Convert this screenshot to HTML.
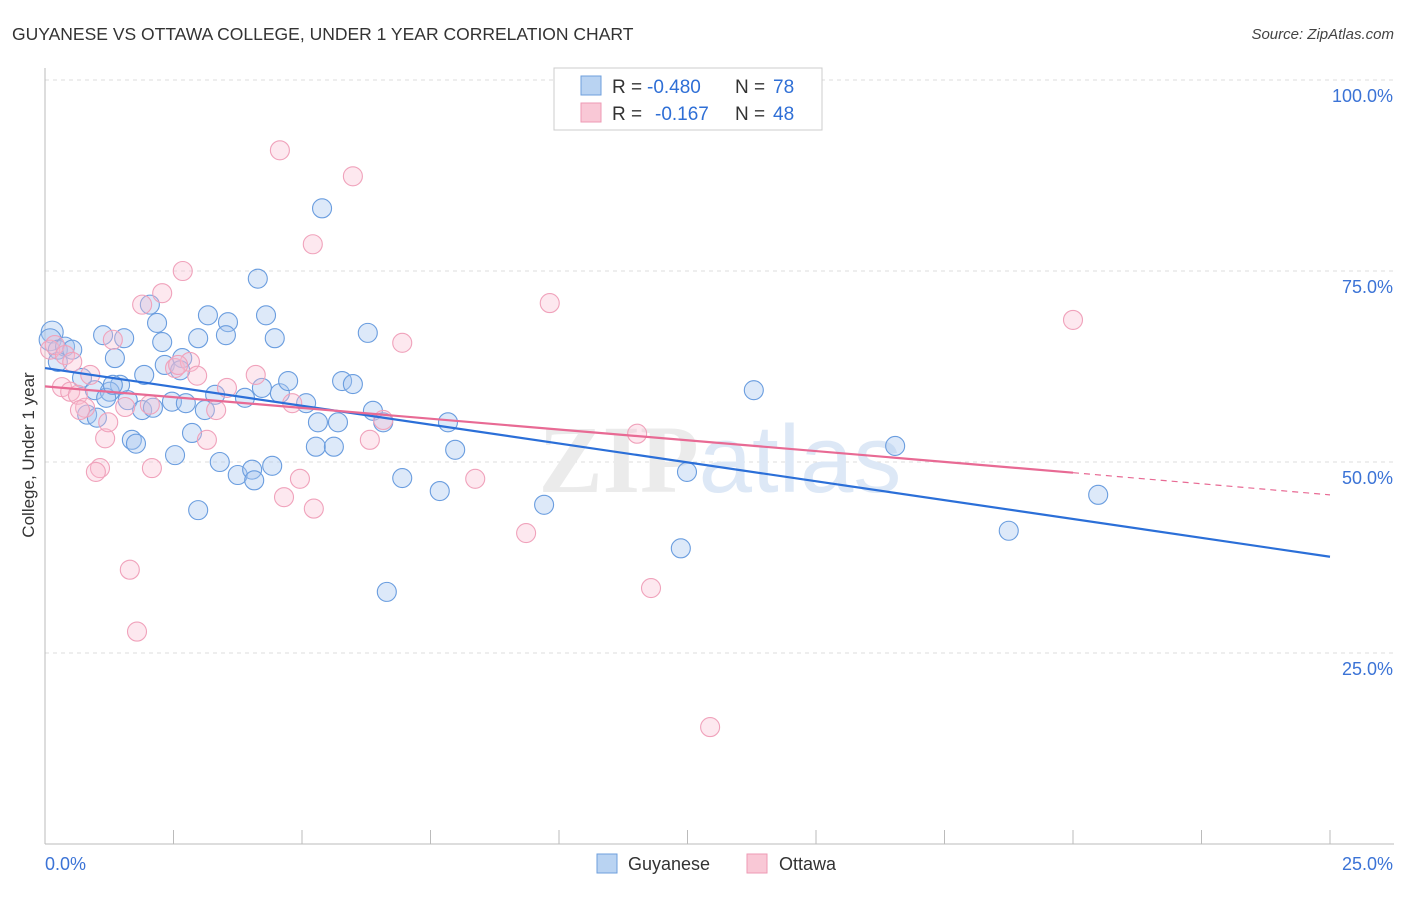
<!DOCTYPE html>
<html><head><meta charset="utf-8"><style>
body{margin:0;background:#fff;font-family:"Liberation Sans",sans-serif;}
</style></head><body>
<svg width="1406" height="892" xmlns="http://www.w3.org/2000/svg">
<text x="12" y="40" font-size="17.5" fill="#333">GUYANESE VS OTTAWA COLLEGE, UNDER 1 YEAR CORRELATION CHART</text>
<text x="1394" y="39" font-size="15" fill="#444" text-anchor="end" font-style="italic">Source: ZipAtlas.com</text>
<g id="grid"></g>
<text x="720" y="492" font-size="96" fill="#ebebeb" text-anchor="middle" font-family="Liberation Serif" font-weight="bold">ZIP<tspan fill="#dde8f6" font-family="Liberation Sans" font-weight="normal">atlas</tspan></text>
<g id="pts"></g>
<g id="lines"></g>
<text x="34" y="455" font-size="17" fill="#333" text-anchor="middle" transform="rotate(-90 34 455)">College, Under 1 year</text>
<g>
<rect x="554" y="68" width="268" height="62" fill="#fff" stroke="#ccc"/>
<rect x="581" y="76" width="20" height="19" fill="#b9d3f2" stroke="#6e9fdc"/>
<rect x="581" y="103" width="20" height="19" fill="#f9c8d6" stroke="#ee9ab4"/>
<text y="93" font-size="19" fill="#333"><tspan x="612">R =</tspan><tspan x="647" fill="#2f6fd6">-0.480</tspan><tspan x="735">N =</tspan><tspan x="773" fill="#2f6fd6">78</tspan></text>
<text y="120" font-size="19" fill="#333"><tspan x="612">R =</tspan><tspan x="655" fill="#2f6fd6">-0.167</tspan><tspan x="735">N =</tspan><tspan x="773" fill="#2f6fd6">48</tspan></text>
</g>
<g>
<rect x="597" y="854" width="20" height="19" fill="#b9d3f2" stroke="#6e9fdc"/>
<text x="628" y="870" font-size="18" fill="#333">Guyanese</text>
<rect x="747" y="854" width="20" height="19" fill="#f9c8d6" stroke="#ee9ab4"/>
<text x="779" y="870" font-size="18" fill="#333">Ottawa</text>
</g>
</svg>
<script>
const yTicks=[25,50,75,100];
const yTickLabels=["25.0%","50.0%","75.0%","100.0%"];
const xTickLabels=["0.0%","25.0%"];
const blueX=[0.14,0.10,0.25,0.39,0.53,0.25,0.72,0.97,0.82,1.01,1.13,1.36,1.46,1.26,1.19,1.54,1.61,1.89,1.69,1.77,1.93,2.04,2.18,2.10,2.28,2.33,2.47,2.53,2.67,2.74,2.86,2.98,2.98,3.17,3.11,3.31,3.40,3.56,3.52,3.75,3.89,4.03,4.07,4.14,4.22,4.30,4.42,4.47,4.57,4.73,5.08,5.31,5.27,5.39,5.62,5.70,5.78,5.99,6.28,6.38,6.58,6.65,6.95,7.68,7.84,7.98,9.71,12.37,12.49,13.79,16.54,18.75,20.49,2.63,1.32];
const blueY=[67.0,66.0,64.7,65.1,64.7,63.1,61.0,59.4,56.2,55.8,66.6,63.6,60.1,59.2,58.4,66.2,58.1,56.8,52.9,52.4,61.4,70.6,68.2,57.1,65.7,62.7,57.9,50.9,63.6,57.7,53.8,43.7,66.2,69.2,56.8,58.8,50.0,68.3,66.6,48.3,58.4,49.0,47.6,74.0,59.7,69.2,49.5,66.2,59.0,60.6,57.7,55.2,52.0,83.2,52.0,55.2,60.6,60.2,66.9,56.7,55.2,33.0,47.9,46.2,55.2,51.6,44.4,38.7,48.7,59.4,52.1,41.0,45.7,62.0,60.1];
const pinkX=[0.10,0.19,0.39,0.53,0.33,0.49,0.64,0.78,0.88,0.68,1.07,0.99,1.17,1.23,1.32,1.56,1.65,1.79,1.89,2.04,2.08,2.28,2.53,2.68,2.82,2.96,3.15,3.33,3.54,4.10,4.57,4.81,4.65,4.96,5.23,5.21,5.99,6.32,6.58,6.95,8.37,9.36,9.82,11.52,11.79,12.94,20.0,2.59];
const pinkY=[64.7,65.3,64.0,63.1,59.8,59.2,58.8,57.1,61.4,56.8,49.2,48.7,53.1,55.2,66.0,57.2,35.9,27.8,70.6,57.5,49.2,72.1,62.3,75.0,63.1,61.3,52.9,56.8,59.7,61.4,90.8,57.7,45.4,47.8,43.9,78.5,87.4,52.9,55.5,65.6,47.8,40.7,70.8,53.7,33.5,15.3,68.6,62.7];
const blueLine=[62.3,37.6];
const pinkLine=[59.9,48.6,45.7];
const NS="http://www.w3.org/2000/svg";
const X=v=>45+v/25*1285, Y=v=>844-v/100*764;
function mk(t,a,p){const e=document.createElementNS(NS,t);for(const k in a)e.setAttribute(k,a[k]);p.appendChild(e);return e;}
const g=document.getElementById('grid');
yTicks.forEach((t,i)=>{
 const l=mk('line',{x1:45,x2:1394,y1:Y(t),y2:Y(t),stroke:'#ddd','stroke-dasharray':'4,4'},g);
 
 
 const tx=mk('text',{x:1393,y:Y(t)+22,'font-size':18,fill:'#3b73d6','text-anchor':'end'},g);
 tx.textContent=yTickLabels[i];
 
 
});
mk('line',{x1:45,x2:45,y1:68,y2:844,stroke:'#bbb'},g);
mk('line',{x1:45,x2:1394,y1:844,y2:844,stroke:'#bbb'},g);
for(let i=1;i<=10;i++){const x=X(i*2.5);mk('line',{x1:x,x2:x,y1:830,y2:844,stroke:'#bbb'},g);}
xTickLabels.forEach((s,i)=>{
 const tx=mk('text',{x:i?1393:45,y:870,'font-size':18,fill:'#3b73d6','text-anchor':i?'end':'start'},g);
 tx.textContent=s;
 
 
});
const p=document.getElementById('pts');
blueX.forEach((x,i)=>{
 const c=mk('circle',{cx:X(x),cy:Y(blueY[i]),r:i<2?11:9.5,fill:'rgba(165,198,240,0.38)',stroke:'#6a9ddf','stroke-width':1.1},p);
 
 
});
pinkX.forEach((x,i)=>{
 const c=mk('circle',{cx:X(x),cy:Y(pinkY[i]),r:9.5,fill:'rgba(248,190,208,0.35)',stroke:'#f0a2bb','stroke-width':1.1},p);
 
 
});
const L=document.getElementById('lines');
const bl=mk('line',{x1:X(0),y1:Y(blueLine[0]),x2:X(25),y2:Y(blueLine[1]),stroke:'#2b6fd8','stroke-width':2.2},L);


const pl=mk('line',{x1:X(0),y1:Y(pinkLine[0]),x2:X(20),y2:Y(pinkLine[1]),stroke:'#e86a94','stroke-width':2.2},L);


const pd=mk('line',{x1:X(20),y1:Y(pinkLine[1]),x2:X(25),y2:Y(pinkLine[2]),stroke:'#e86a94','stroke-width':1.2,'stroke-dasharray':'6,5'},L);


</script>
</body></html>
